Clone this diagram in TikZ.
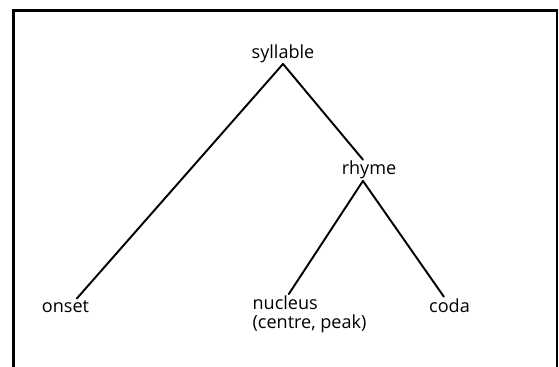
\documentclass[tikz,border=0pt]{standalone}
\usepackage{fontspec}
\setmainfont{Open Sans}
\usepackage{tikz}
\usetikzlibrary{positioning}

\begin{document}
\begin{tikzpicture}[
    word/.style={font=\fontsize{13.6}{14.2}\selectfont, inner sep=1pt},
    branch/.style={line width=1.45pt, line cap=round}
]
    \useasboundingbox (0,0) rectangle (14.79,9.71);

    % Frame (open at the bottom, it runs off the page)
    \draw[line width=1.8pt] (0.357,-0.3) -- (0.357,9.432) -- (14.737,9.432) -- (14.737,-0.3);

    % Labels
    \node[word, anchor=base] (syllable) at (7.488, 8.175) {syllable};
    \node[word, anchor=base] (rhyme) at (9.763, 5.080) {rhyme};
    \node[word, anchor=base] (onset) at (1.733, 1.455) {onset};
    \node[word, anchor=north west, align=left] (nucleus) at (6.641, 1.93)
        {nucleus\\(centre, peak)};
    \node[word, anchor=base] (coda) at (11.893, 1.455) {coda};

    % Branches
    \draw[branch] (syllable.south) -- ([xshift=0.3cm]onset.north);
    \draw[branch] (syllable.south) -- ([xshift=-0.16cm]rhyme.north);
    \draw[branch] ([xshift=-0.16cm]rhyme.south) -- ([xshift=1cm]nucleus.north west);
    \draw[branch] ([xshift=-0.16cm]rhyme.south) -- ([xshift=-0.15cm]coda.north);
\end{tikzpicture}
\end{document}
